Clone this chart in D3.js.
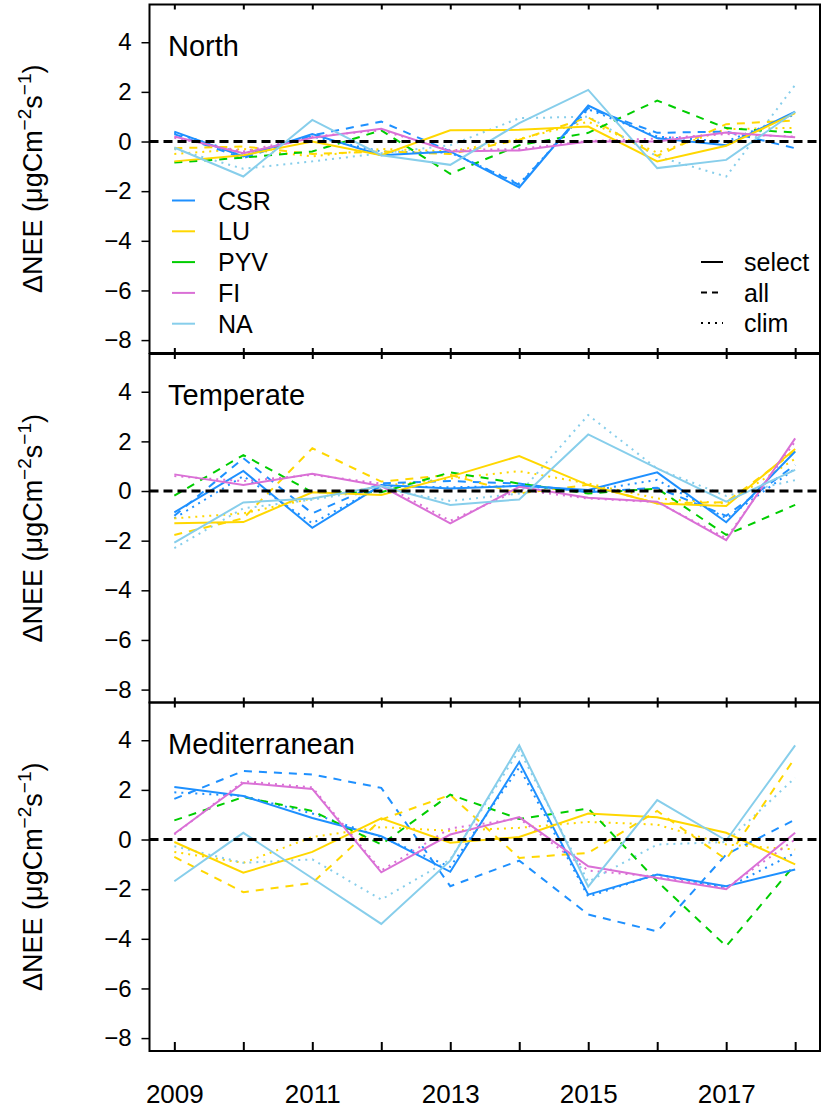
<!DOCTYPE html>
<html>
<head>
<meta charset="utf-8">
<script src="https://cdn.jsdelivr.net/npm/d3@7"></script>
<style>
  body { margin: 0; background: #fff; }
  text { font-family: "Liberation Sans", Arial, sans-serif; fill: #000; }
</style>
</head>
<body>
<div id="chart"></div>
<script>
// years on the x axis
const years = [2009, 2010, 2011, 2012, 2013, 2014, 2015, 2016, 2017, 2018];
const yTicks = [-8, -6, -4, -2, 0, 2, 4];
const regions = ["North", "Temperate", "Mediterranean"];
const sources = ["CSR", "LU", "PYV", "FI", "NA"];
const sourceColors = ["#1E90FF", "#FFD700", "#00CD00", "#DA70D6", "#87CEEB"];
const runTypes = ["select", "all", "clim"];

// North
const north_CSR_select = [0.4, -0.6, 0.3, -0.55, -0.4, -1.85, 1.45, 0.13, -0.15, 1.2];
const north_CSR_all    = [0.3, -0.67, 0.25, 0.8, -0.4, -1.75, 1.35, 0.35, 0.4, -0.27];
const north_CSR_clim   = [0.35, -0.5, 0.2, -0.4, -0.45, -1.7, 1.3, 0.2, 0.0, 1.1];
const north_LU_select  = [-0.8, -0.55, 0.0, -0.55, 0.45, 0.47, 0.6, -0.8, -0.17, 1.14];
const north_LU_all     = [-0.27, -0.2, -0.5, -0.4, -0.5, 0.07, 0.97, -0.58, 0.7, 0.85];
const north_LU_clim    = [-0.5, -0.3, -0.6, -0.3, -0.4, 0.1, 0.8, -0.45, 0.5, 0.55];
const north_PYV_all    = [-0.85, -0.65, -0.4, 0.45, -1.3, -0.15, 0.35, 1.65, 0.54, 0.36];
const north_FI_select  = [0.2, -0.47, 0.15, 0.51, -0.4, -0.36, 0.0, 0.0, 0.36, 0.17];
const north_FI_clim    = [0.15, -0.4, 0.2, 0.45, -0.35, -0.3, 0.02, 0.12, 0.3, 0.2];
const north_NA_select  = [-0.24, -1.41, 0.87, -0.55, -0.94, 0.74, 2.08, -1.07, -0.74, 1.2];
const north_NA_clim    = [-0.3, -1.1, -0.8, -0.47, -0.15, 0.94, 1.0, -0.6, -1.41, 2.28];

// Temperate
const temp_CSR_select = [-0.86, 0.81, -1.48, 0.24, 0.1, 0.21, 0.04, 0.75, -1.26, 1.59];
const temp_CSR_all    = [-1.0, 1.32, -0.9, 0.31, 0.4, 0.3, -0.05, 0.13, -1.0, 1.05];
const temp_CSR_clim   = [-1.1, 0.6, -1.3, 0.2, 0.15, 0.2, 0.0, 0.45, -1.1, 0.9];
const temp_LU_select  = [-1.3, -1.25, -0.05, -0.16, 0.58, 1.41, 0.24, -0.5, -0.6, 1.69];
const temp_LU_all     = [-1.77, -1.1, 1.72, 0.38, 0.65, -0.1, 0.25, -0.5, -0.45, 1.6];
const temp_LU_clim    = [-1.1, -0.9, -0.3, 0.2, 0.5, 0.8, 0.3, -0.3, -0.5, 1.3];
const temp_PYV_all    = [-0.19, 1.45, -0.05, -0.05, 0.75, 0.3, -0.1, 0.1, -1.77, -0.56];
const temp_FI_select  = [0.67, 0.24, 0.7, 0.2, -1.3, 0.17, -0.27, -0.43, -1.98, 2.12];
const temp_FI_clim    = [0.6, 0.4, 0.65, 0.3, -1.2, 0.05, -0.3, -0.45, -1.9, 2.0];
const temp_NA_select  = [-2.08, -0.46, -0.3, 0.2, -0.56, -0.34, 2.28, 0.91, -0.43, 0.85];
const temp_NA_clim    = [-2.3, -0.7, -0.35, 0.1, -0.4, -0.1, 3.06, 0.9, -0.2, 0.44];

// Mediterranean
const med_CSR_select = [2.12, 1.75, 0.87, 0.13, -1.3, 3.12, -2.22, -1.41, -1.88, -1.21];
const med_CSR_all    = [1.64, 2.76, 2.62, 2.08, -1.88, -0.85, -3.02, -3.7, -0.6, 0.8];
const med_CSR_clim   = [1.9, 1.75, 1.05, 0.1, -1.1, 2.9, -2.3, -1.4, -1.95, -0.54];
const med_LU_select  = [-0.1, -1.34, -0.5, 0.85, -0.13, 0.1, 1.05, 0.9, 0.27, -1.0];
const med_LU_all     = [-0.7, -2.12, -1.75, 0.8, 1.8, -0.74, -0.54, 1.15, -0.8, 3.3];
const med_LU_clim    = [-0.5, -0.94, 0.1, 0.5, 0.35, 0.47, 0.71, 0.6, -0.2, -0.4];
const med_PYV_all    = [0.77, 1.71, 1.15, -0.2, 1.81, 0.83, 1.25, -1.68, -4.3, -1.0];
const med_FI_select  = [0.23, 2.28, 2.04, -1.32, 0.2, 0.9, -1.08, -1.55, -2.0, 0.27];
const med_FI_clim    = [0.2, 2.35, 2.1, -1.25, 0.45, 0.85, -1.25, -1.5, -1.95, 0.0];
const med_NA_select  = [-1.68, 0.27, -1.56, -3.4, -0.85, 3.79, -1.9, 1.59, -0.04, 3.79];
const med_NA_clim    = [-0.27, -0.94, -0.8, -2.42, -0.8, 3.6, -1.7, -0.2, -0.1, 2.49];

// list of drawn series (region index, source, run type, values)
const series = [
	[0, "CSR", "select", north_CSR_select], [0, "CSR", "all", north_CSR_all], [0, "CSR", "clim", north_CSR_clim],
	[0, "LU", "select", north_LU_select], [0, "LU", "all", north_LU_all], [0, "LU", "clim", north_LU_clim],
	[0, "PYV", "all", north_PYV_all],
	[0, "FI", "select", north_FI_select], [0, "FI", "clim", north_FI_clim],
	[0, "NA", "select", north_NA_select], [0, "NA", "clim", north_NA_clim],
	[1, "CSR", "select", temp_CSR_select], [1, "CSR", "all", temp_CSR_all], [1, "CSR", "clim", temp_CSR_clim],
	[1, "LU", "select", temp_LU_select], [1, "LU", "all", temp_LU_all], [1, "LU", "clim", temp_LU_clim],
	[1, "PYV", "all", temp_PYV_all],
	[1, "FI", "select", temp_FI_select], [1, "FI", "clim", temp_FI_clim],
	[1, "NA", "select", temp_NA_select], [1, "NA", "clim", temp_NA_clim],
	[2, "CSR", "select", med_CSR_select], [2, "CSR", "all", med_CSR_all], [2, "CSR", "clim", med_CSR_clim],
	[2, "LU", "select", med_LU_select], [2, "LU", "all", med_LU_all], [2, "LU", "clim", med_LU_clim],
	[2, "PYV", "all", med_PYV_all],
	[2, "FI", "select", med_FI_select], [2, "FI", "clim", med_FI_clim],
	[2, "NA", "select", med_NA_select], [2, "NA", "clim", med_NA_clim]
].map(d => ({region: d[0], source: d[1], type: d[2], values: d[3]}));

const width = 821, height = 1112;
const left = 149.5, right = 820;
const panelTop = [4.5, 354, 702.5];
const panelH = 348.5;

const color = d3.scaleOrdinal().domain(sources).range(sourceColors);
const dash = {select: null, all: "8,7", clim: "2,5"};
const drawOrder = {clim: 0, all: 1, select: 2};

const x = d3.scaleLinear().domain([2008.64, 2018.36]).range([left, right]);

const svg = d3.select("#chart").append("svg")
	.attr("width", width)
	.attr("height", height);

regions.forEach((name, i) => {
	const top = panelTop[i];
	const y = d3.scaleLinear().domain([-8.52, 5.52]).range([top + panelH, top]);
	const g = svg.append("g");

	// y axis
	const ya = g.append("g")
		.attr("transform", "translate(" + left + ",0)")
		.call(d3.axisLeft(y).tickValues(yTicks).tickSize(8).tickPadding(10));
	ya.select(".domain").remove();
	ya.selectAll("line").attr("stroke", "#000").attr("stroke-width", 1.5);
	ya.selectAll("text").style("font-size", "24px");

	// x ticks inside the box, top and bottom
	const isLast = i === regions.length - 1;
	const xb = g.append("g")
		.attr("transform", "translate(0," + (top + panelH) + ")")
		.call(d3.axisBottom(x).tickValues(years).tickSize(isLast ? -9 : -5).tickPadding(34)
			.tickFormat(d => isLast && d % 2 === 1 ? String(d) : ""));
	xb.select(".domain").remove();
	xb.selectAll("line").attr("stroke", "#000").attr("stroke-width", 2);
	xb.selectAll("text").style("font-size", "26px");
	const xt = g.append("g")
		.attr("transform", "translate(0," + top + ")")
		.call(d3.axisTop(x).tickValues(years).tickSize(-5).tickFormat(""));
	xt.select(".domain").remove();
	xt.selectAll("line").attr("stroke", "#000").attr("stroke-width", 2);

	// lines
	const line = d3.line().x((v, k) => x(years[k])).y(v => y(v));
	const rows = series.filter(s => s.region === i)
		.sort((a, b) => drawOrder[a.type] - drawOrder[b.type]);
	g.selectAll(".series")
		.data(rows)
		.enter().append("path")
		.attr("class", "series")
		.attr("fill", "none")
		.attr("stroke", d => color(d.source))
		.attr("stroke-width", 2)
		.attr("stroke-dasharray", d => dash[d.type])
		.attr("d", d => line(d.values));

	// zero line
	g.append("line")
		.attr("x1", left).attr("x2", right)
		.attr("y1", y(0)).attr("y2", y(0))
		.attr("stroke", "#000")
		.attr("stroke-width", 3)
		.attr("stroke-dasharray", "9,5");

	// box
	g.append("rect")
		.attr("x", left).attr("y", top)
		.attr("width", right - left).attr("height", panelH)
		.attr("fill", "none")
		.attr("stroke", "#000")
		.attr("stroke-width", 2);

	g.append("text")
		.attr("x", 168).attr("y", top + 51)
		.style("font-size", "29px")
		.text(name);

	// y title
	const t = g.append("text")
		.attr("transform", "translate(42," + (top + panelH / 2) + ") rotate(-90)")
		.attr("text-anchor", "middle")
		.style("font-size", "27px");
	t.append("tspan").text("\u0394NEE (\u03bcgCm");
	t.append("tspan").attr("dy", -11).style("font-size", "19px").text("\u22122");
	t.append("tspan").attr("dy", 11).text("s");
	t.append("tspan").attr("dy", -11).style("font-size", "19px").text("\u22121");
	t.append("tspan").attr("dy", 11).text(")");
});

// legends, top panel
const lg = svg.append("g");
sources.forEach((s, k) => {
	const yy = 200.5 + k * 30.8;
	lg.append("line").attr("x1", 172).attr("x2", 195).attr("y1", yy).attr("y2", yy)
		.attr("stroke", color(s)).attr("stroke-width", 2);
	lg.append("text").attr("x", 218).attr("y", yy + 9).style("font-size", "25px").text(s);
});
runTypes.forEach((r, k) => {
	const yy = 262 + k * 30.5;
	lg.append("line").attr("x1", 701).attr("x2", 723).attr("y1", yy).attr("y2", yy)
		.attr("stroke", "#000").attr("stroke-width", 2)
		.attr("stroke-dasharray", r === "select" ? null : (r === "all" ? "6,5" : "2,5"));
	lg.append("text").attr("x", 744).attr("y", yy + 9).style("font-size", "25px").text(r);
});
</script>
</body>
</html>
